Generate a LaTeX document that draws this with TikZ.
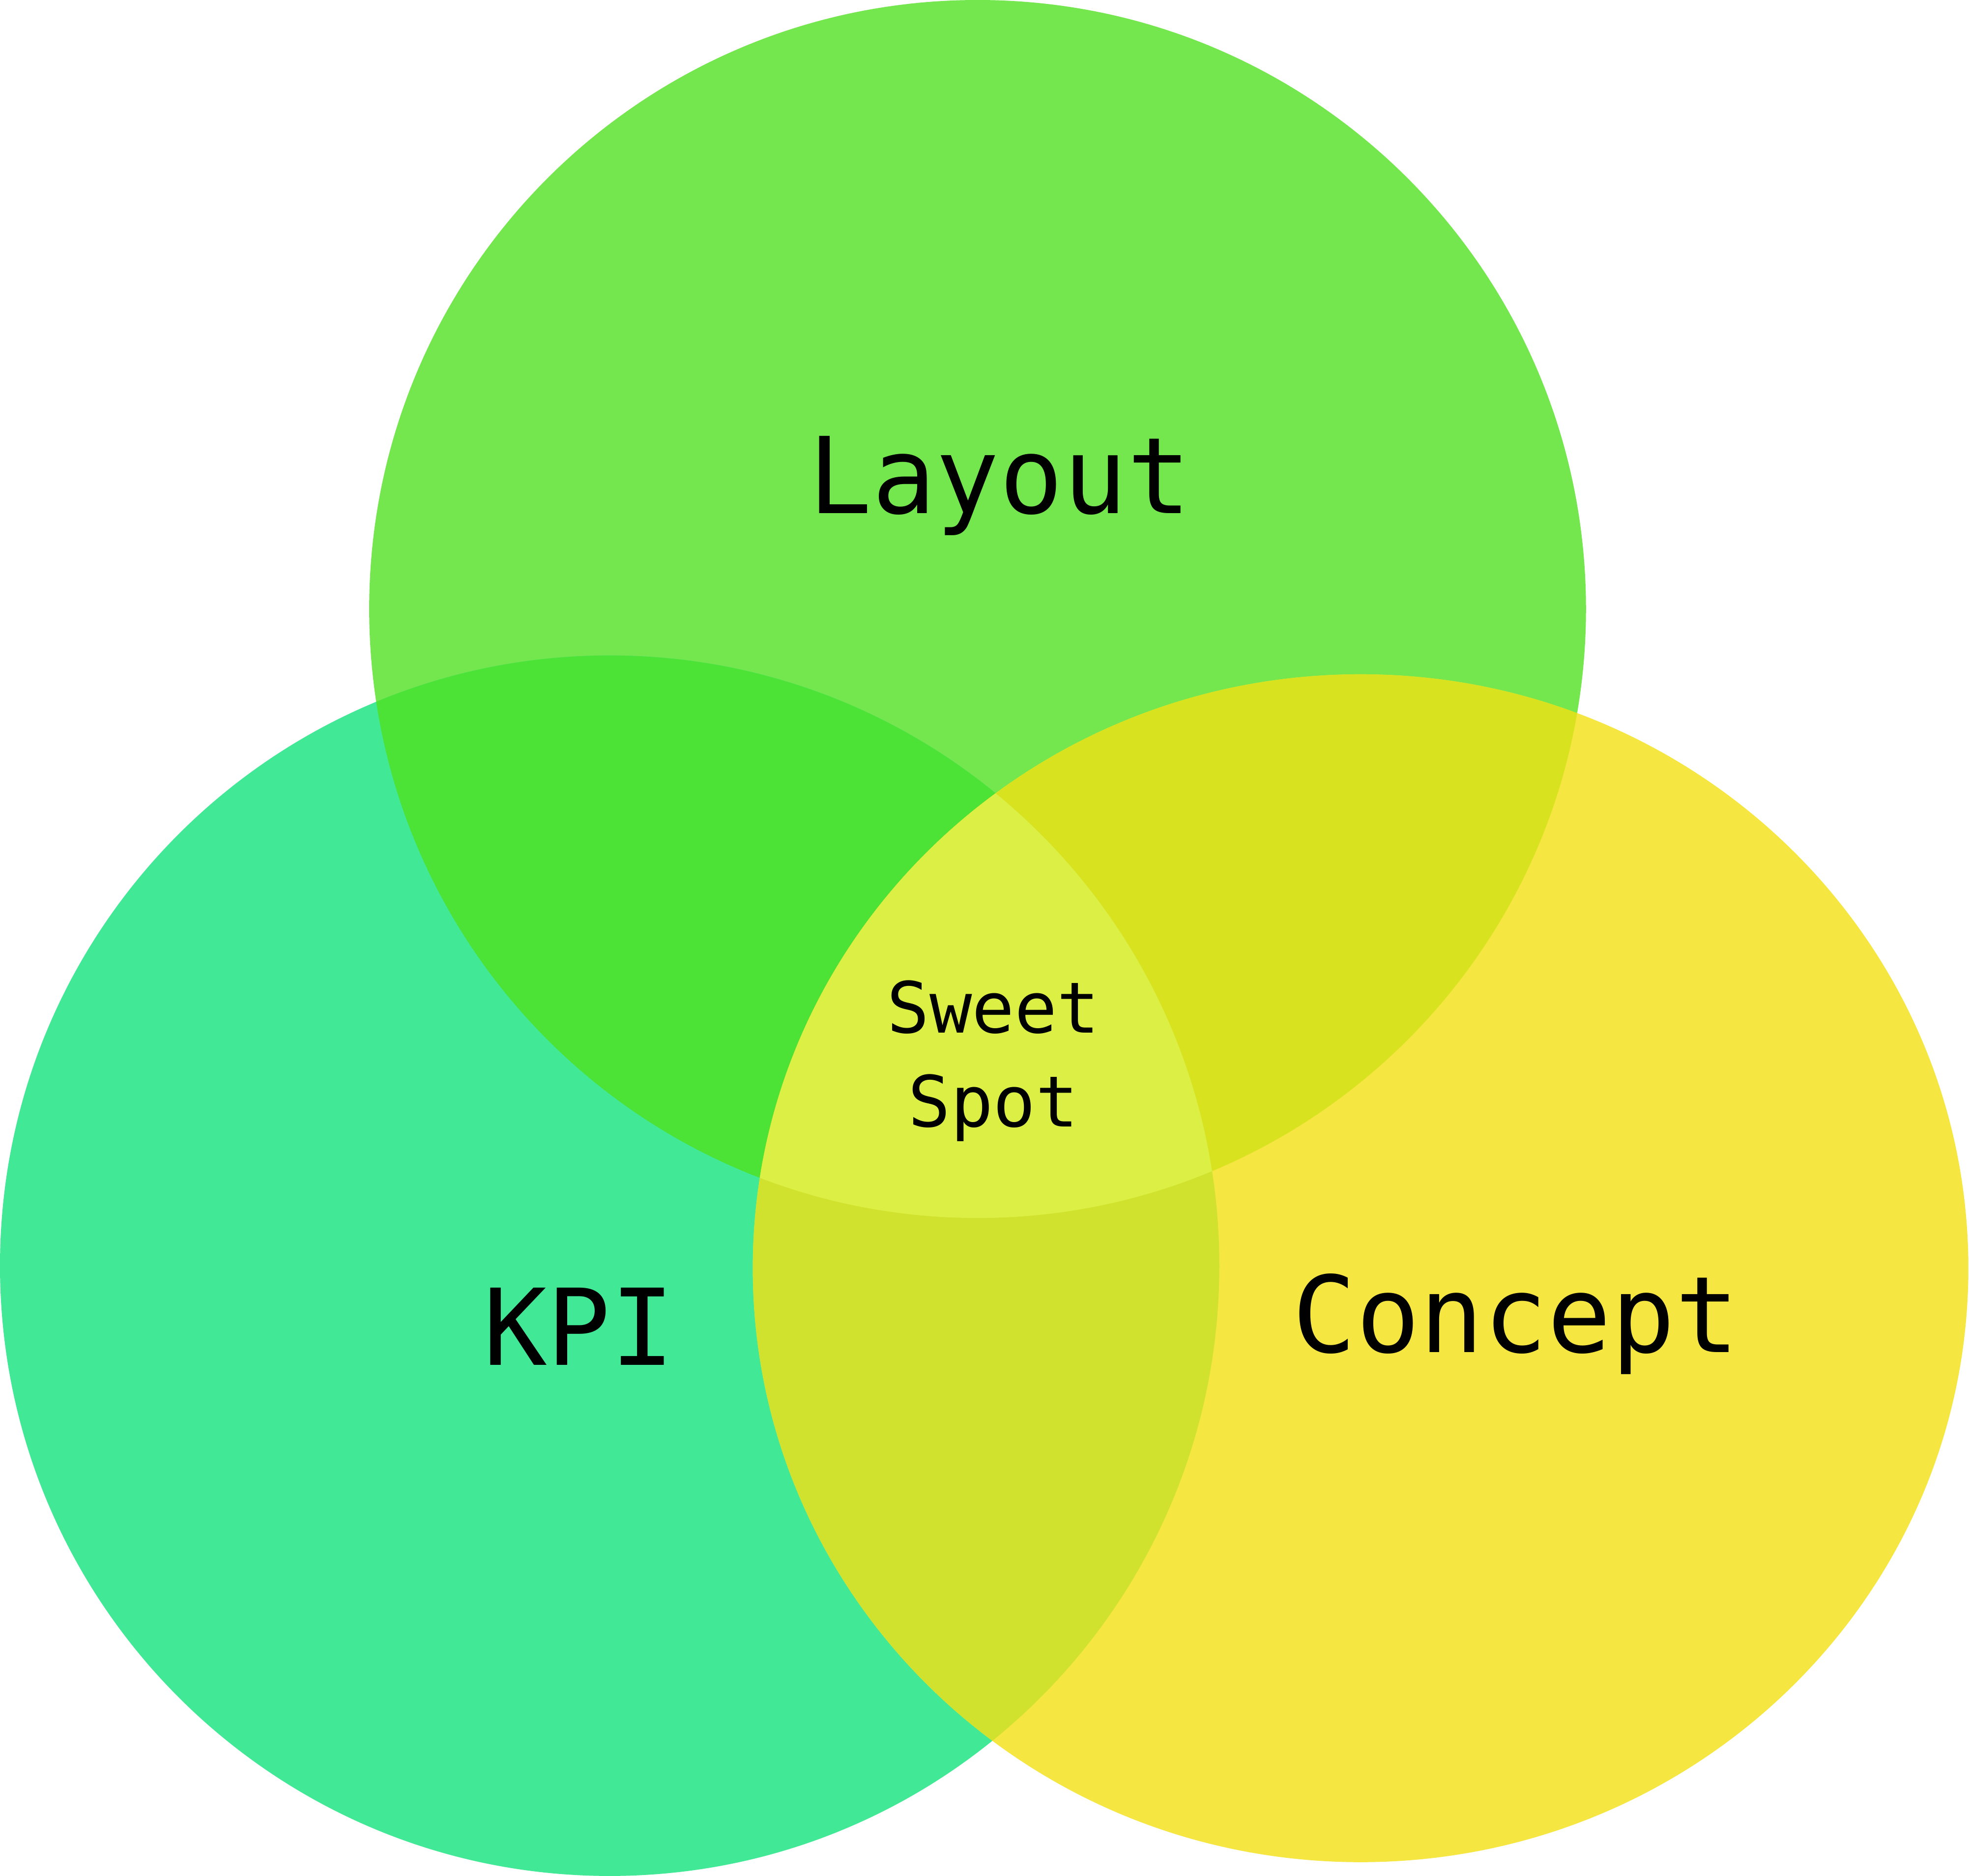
\documentclass[tikz,border=0pt]{standalone}
\usepackage{fontspec}
\setmonofont{DejaVu Sans Mono}
\usepackage{tikz}

\definecolor{layoutgreen}{HTML}{74E64E}
\definecolor{kpigreen}{HTML}{41E996}
\definecolor{conceptyellow}{HTML}{F5E642}
\definecolor{layoutkpi}{HTML}{4CE236}
\definecolor{layoutconcept}{HTML}{D8E21E}
\definecolor{kpiconcept}{HTML}{D1E22E}
\definecolor{sweetspot}{HTML}{DBEF44}

% circle outlines, in px of the picture
\def\layoutset{(778.5,485) ellipse [x radius=484.5, y radius=485]}
\def\kpiset{(485.5,1008) ellipse [x radius=485.5, y radius=486]}
\def\conceptset{(1083.5,1010) ellipse [x radius=484, y radius=473]}

\begin{document}
\begin{tikzpicture}[
    x=0.01cm, y=-0.01cm,
    setlabel/.style={
        anchor=base,
        font=\ttfamily\fontsize{24pt}{28pt}\selectfont
    },
    spotlabel/.style={
        align=center,
        font=\ttfamily\fontsize{16pt}{21.3pt}\selectfont
    }
]
\useasboundingbox (0,0) rectangle (1568,1494);

\fill[layoutgreen] \layoutset;
\fill[kpigreen] \kpiset;
\fill[conceptyellow] \conceptset;

% pairwise overlaps
\begin{scope}
    \clip \layoutset;
    \fill[layoutkpi] \kpiset;
\end{scope}
\begin{scope}
    \clip \layoutset;
    \fill[layoutconcept] \conceptset;
\end{scope}
\begin{scope}
    \clip \kpiset;
    \fill[kpiconcept] \conceptset;
\end{scope}

% all three
\begin{scope}
    \clip \layoutset;
    \clip \kpiset;
    \fill[sweetspot] \conceptset;
\end{scope}

\node[setlabel] (layout) at (796,409) {Layout};
\node[setlabel] (kpi) at (461,1087) {KPI};
\node[setlabel] (concept) at (1207,1077) {Concept};
\node[spotlabel] (spot) at (791,845) {Sweet\\Spot};

\end{tikzpicture}
\end{document}
